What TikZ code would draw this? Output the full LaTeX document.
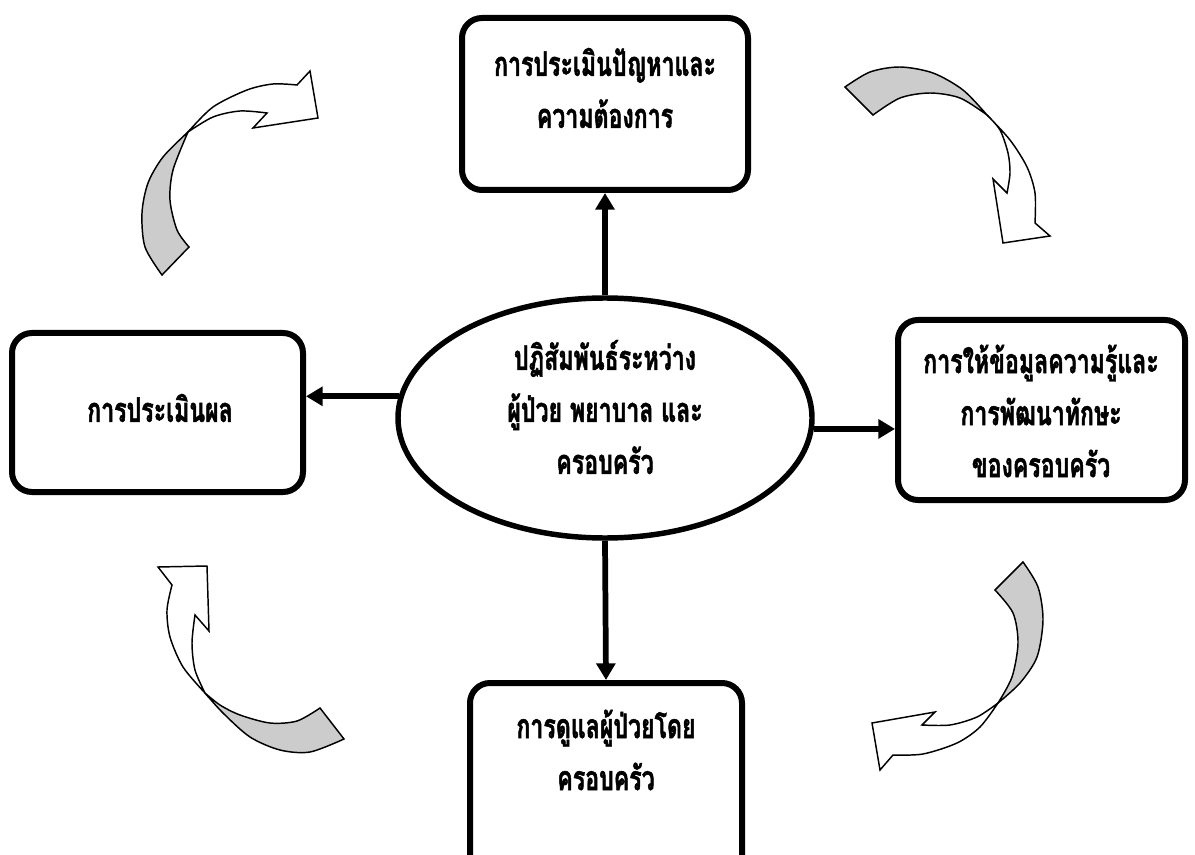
\documentclass[tikz,border=0pt]{standalone}
\usepackage{fontspec}
\newfontfamily\thaifont[Script=Thai,FakeStretch=0.68,BoldFeatures={FakeBold=1.4}]{Loma}
\usetikzlibrary{arrows.meta,shapes.geometric}
\tikzset{
  box/.style={draw, line width=4.5pt, rounded corners=15pt, rectangle, inner sep=0pt},
  oval/.style={draw, line width=4.1pt, ellipse, inner sep=0pt, minimum width=310.5pt, minimum height=180pt},
  lbl/.style={font=\thaifont\bfseries\fontsize{25.5}{39}\selectfont, align=center, inner sep=0pt},
  link/.style={line width=4.3pt, -{Triangle[length=12.5pt,width=14pt]}},
  backside/.style={draw, line width=1.1pt, fill=black!20, line join=miter},
  frontside/.style={draw, line width=1.1pt, fill=white, line join=miter},
}
\begin{document}
\begin{tikzpicture}[x=0.75pt,y=-0.75pt]
\clip (0,0) rectangle (1195,855);
\fill[white] (0,0) rectangle (1195,855);

% boxes
\node[box, minimum width=214.5pt, minimum height=129pt] (top) at (605,104) {};
\node[box, minimum width=218.25pt, minimum height=119.25pt] (left) at (157.5,412.5) {};
\node[box, minimum width=215.25pt, minimum height=135pt] (right) at (1041.5,410) {};
\node[box, minimum width=204pt, minimum height=150pt] (bottom) at (606,783) {};
\node[oval] (ell) at (605,418) {};

% texts
\node[lbl] (ttop) at (605,88) {การประเมินปัญหาและ\\ความต้องการ};
\node[lbl] (tleft) at (160,408) {การประเมินผล};
\node[lbl] (tright) at (1041,411) {การให้ข้อมูลความรู้และ\\การพัฒนาทักษะ\\ของครอบครัว};
\node[lbl] (tbottom) at (606,750) {การดูแลผู้ป่วยโดย\\ครอบครัว};
\node[lbl] (tell) at (605,407) {ปฏิสัมพันธ์ระหว่าง\\ผู้ป่วย พยาบาล และ\\ครอบครัว};

% connectors
\draw[link] (ell.north) -- (top.south);
\draw[link] (ell.174) -- (ell.174 -| left.east);
\draw[link] (ell.-3.5) -- (ell.-3.5 -| right.west);
\draw[link] (ell.south) -- (bottom.north);

% curved arrow top-left
\draw[backside] (162,275) -- (189,247)
  -- plot[smooth] coordinates {(189,247) (177,230) (170,200) (173,170) (188,132)}
  -- plot[smooth] coordinates {(188,132) (163,157) (148,183) (142,213) (145,247) (162,275)} -- cycle;
\draw[frontside] (188,132)
  -- plot[smooth] coordinates {(188,132) (213,107) (247,90) (273,84) (297,85)}
  -- (310,71) -- (318,118) -- (253,128) -- (267,113)
  -- plot[smooth] coordinates {(267,113) (240,111) (213,117) (188,132)} -- cycle;

% curved arrow top-right
\draw[backside] (845,87) -- (873,115)
  -- plot[smooth] coordinates {(873,115) (900,98) (930,93) (960,98) (987,115)}
  -- plot[smooth] coordinates {(987,115) (963,90) (933,73) (900,67) (870,72) (845,87)} -- cycle;
\draw[frontside] (987,115)
  -- plot[smooth] coordinates {(987,115) (1000,130) (1008,153) (1010,173) (1007,193)}
  -- (993,179) -- (1003,243) -- (1050,236) -- (1035,223)
  -- plot[smooth] coordinates {(1035,223) (1035,193) (1027,167) (1010,140) (987,115)} -- cycle;

% curved arrow bottom-right
\draw[backside] (995,590) -- (1023,562)
  -- plot[smooth] coordinates {(1023,562) (1038,587) (1043,620) (1037,657) (1020,683) (998,703)}
  -- plot[smooth] coordinates {(998,703) (1012,677) (1018,643) (1013,613) (995,590)} -- cycle;
\draw[frontside] (998,703)
  -- plot[smooth] coordinates {(998,703) (977,717) (950,725) (922,725)}
  -- (935,712) -- (872,723) -- (880,770) -- (893,755)
  -- plot[smooth] coordinates {(893,755) (923,754) (957,743) (980,727) (998,703)} -- cycle;

% curved arrow bottom-left
\draw[backside] (320,708) -- (344,739)
  -- plot[smooth] coordinates {(344,739) (310,752) (280,750) (250,737) (223,713) (205,693)}
  -- plot[smooth] coordinates {(205,693) (220,705) (240,715) (270,723) (297,721) (320,708)} -- cycle;
\draw[frontside] (205,693)
  -- plot[smooth] coordinates {(205,693) (183,667) (170,637) (167,610) (172,585)}
  -- (158,567) -- (207,566) -- (209,631) -- (195,615)
  -- plot[smooth] coordinates {(195,615) (192,643) (195,670) (205,693)} -- cycle;
\end{tikzpicture}
\end{document}
